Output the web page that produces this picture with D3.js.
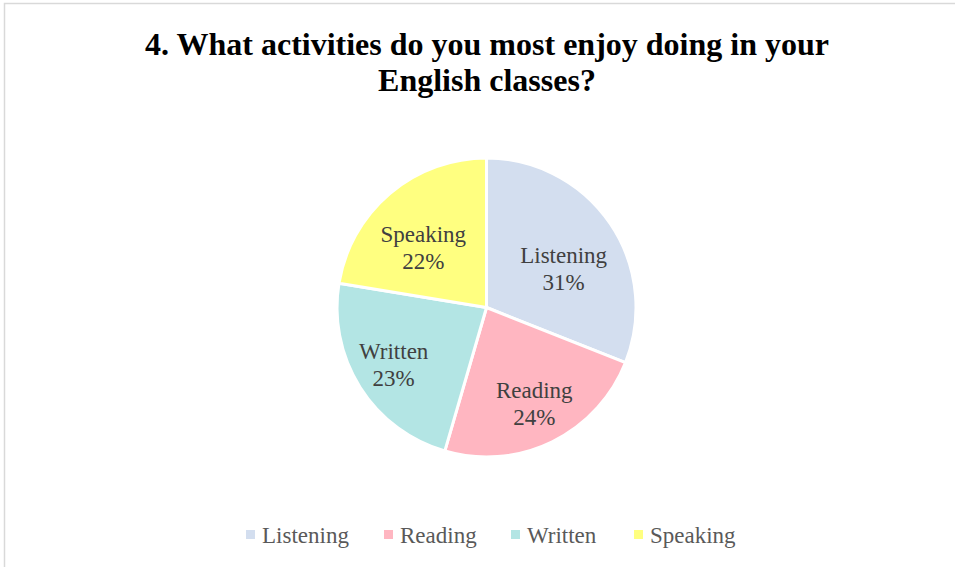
<!DOCTYPE html>
<html>
<head>
<meta charset="utf-8">
<script src="https://cdn.jsdelivr.net/npm/d3@7"></script>
<style>
  html, body { margin: 0; padding: 0; background: #fff; }
  svg { display: block; }
</style>
</head>
<body>
<svg id="chart" width="955" height="567"></svg>
<script>
// ---- data ----
const categories = ["Listening", "Reading", "Written", "Speaking"];
const values = [31.0, 23.5, 23.1, 22.4];   // percent shares
const titleLines = ["4. What activities do you most enjoy doing in your", "English classes?"];

// ---- styles / layout ----
const colors = ["#D3DEEF", "#FFB6C1", "#B3E5E4", "#FFFF80"];
// label placement: [radius factor, angular shift in degrees] per category
const labelPlacement = {
  Listening: [0.573, 8.5],
  Reading:   [0.726, 0],
  Written:   [0.734, 0],
  Speaking:  [0.577, -6.8]
};
const W = 955, H = 567;
const cx = 486.5, cy = 307.5, R = 149.5;
const serif = "'Liberation Serif', 'Times New Roman', Times, serif";

const svg = d3.select("#chart");

// chart border
svg.append("rect")
  .attr("x", 4.5).attr("y", 3.5)
  .attr("width", W + 10).attr("height", H + 10)
  .attr("fill", "#fff")
  .attr("stroke", "#d9d9d9")
  .attr("stroke-width", 1.5);

// title
const title = svg.append("text")
  .attr("text-anchor", "middle")
  .attr("font-family", serif)
  .attr("font-weight", "bold")
  .attr("font-size", 32)
  .attr("fill", "#000");
titleLines.forEach((t, i) => {
  title.append("tspan").attr("x", 487).attr("y", 55 + i * 36).text(t);
});

// pie
const pie = d3.pie().sort(null).value(d => d.value);
const data = categories.map((c, i) => ({ cat: c, value: values[i], color: colors[i] }));
const arcs = pie(data);
const arc = d3.arc().innerRadius(0).outerRadius(R);

const g = svg.append("g").attr("transform", `translate(${cx},${cy})`);
g.selectAll("path.slice")
  .data(arcs)
  .join("path")
  .attr("class", "slice")
  .attr("d", arc)
  .attr("fill", d => d.data.color)
  .attr("stroke", "#fff")
  .attr("stroke-width", 3)
  .attr("stroke-linejoin", "round");

// labels
const total = d3.sum(values);
g.selectAll("text.lbl")
  .data(arcs)
  .join("text")
  .attr("class", "lbl")
  .attr("text-anchor", "middle")
  .attr("font-family", serif)
  .attr("font-size", 23)
  .attr("fill", "#404040")
  .each(function(d) {
    const [rf, shift] = labelPlacement[d.data.cat];
    const rr = R * rf;
    const a = (d.startAngle + d.endAngle) / 2 + shift * Math.PI / 180;
    const x = rr * Math.sin(a), y = -rr * Math.cos(a);
    const t = d3.select(this);
    t.append("tspan").attr("x", x).attr("y", y - 7).text(d.data.cat);
    t.append("tspan").attr("x", x).attr("y", y + 20)
      .text(Math.round(d.data.value / total * 100) + "%");
  });

// legend
const legendX = [246, 384, 511, 634];
const legend = svg.append("g");
categories.forEach((c, i) => {
  const lg = legend.append("g").attr("transform", `translate(${legendX[i]},535)`);
  lg.append("rect").attr("x", 0).attr("y", -5).attr("width", 9).attr("height", 9).attr("fill", colors[i]);
  lg.append("text").attr("x", 16).attr("y", 8)
    .attr("font-family", serif).attr("font-size", 23).attr("fill", "#595959").text(c);
});
</script>
</body>
</html>
